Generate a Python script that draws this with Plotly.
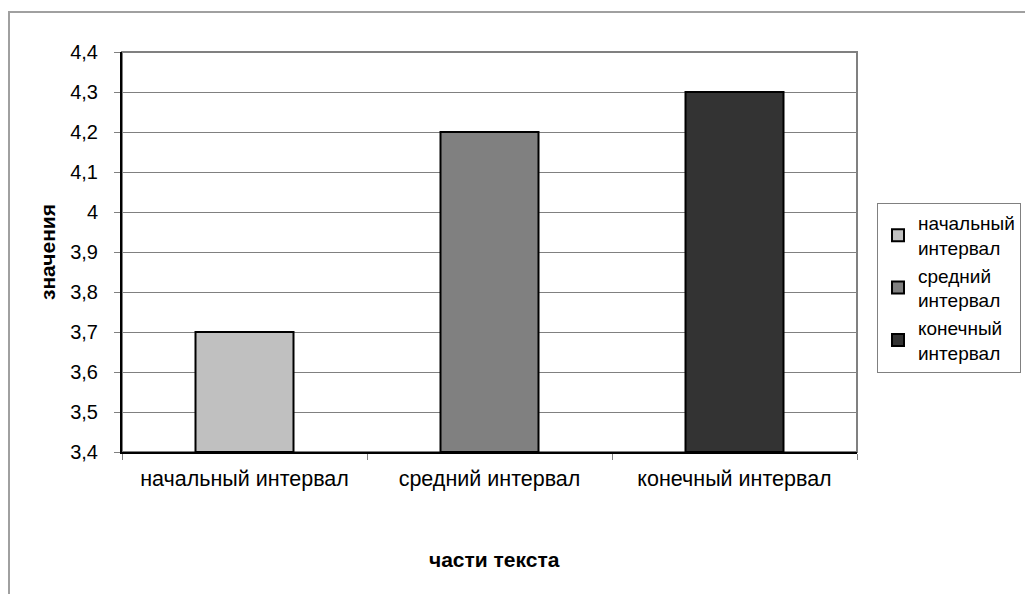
import plotly.graph_objects as go

categories = ["начальный интервал", "средний интервал", "конечный интервал"]
legend_names = ["начальный<br>интервал", "средний<br>интервал", "конечный<br>интервал"]
values = [3.7, 4.2, 4.3]
colors = ["#C0C0C0", "#808080", "#333333"]
y_min, y_max, y_step = 3.4, 4.4, 0.1
y_tick_labels = ["3,4", "3,5", "3,6", "3,7", "3,8", "3,9", "4", "4,1", "4,2", "4,3", "4,4"]
y_title = "значения"
x_title = "части текста"

OFF = 8  # page body offset
W, H = 1033 - OFF, 594 - OFF
# plot area in screen pixels
SL, SR, ST, SB = 122, 857, 52, 452
L, R, T, B = SL - OFF, SR - OFF, ST - OFF, SB - OFF

def px(sx):
    return (sx - SL) / (SR - SL)

def py(sy):
    return (SB - sy) / (SB - ST)

fig = go.Figure()
for cat, name, val, col in zip(categories, legend_names, values, colors):
    fig.add_trace(go.Bar(
        x=[cat], y=[val - y_min], base=y_min, name=name, width=0.4,
        marker=dict(color=col, line=dict(color="black", width=2)),
    ))

font = "Liberation Sans, Arial, sans-serif"
tickvals = [y_min + y_step * i for i in range(len(y_tick_labels))]

fig.update_layout(
    width=W, height=H,
    margin=dict(l=L, r=W - R, t=T, b=H - B, pad=0),
    paper_bgcolor="white", plot_bgcolor="white",
    barmode="overlay",
    font=dict(family=font, size=20, color="black"),
    showlegend=True,
    legend=dict(
        x=px(877), y=py(203), xanchor="left", yanchor="top",
        bordercolor="#808080", borderwidth=1, bgcolor="white",
        font=dict(size=19), itemwidth=30, itemsizing="constant",
    ),
    xaxis=dict(
        type="category", showline=True, linecolor="black", linewidth=2,
        ticks="outside", tickson="boundaries", ticklen=6, tickcolor="#808080",
        showgrid=False, tickfont=dict(size=21.5), ticklabelstandoff=6,
    ),
    yaxis=dict(
        range=[y_min, y_max], tickvals=tickvals, ticktext=y_tick_labels,
        showline=True, linecolor="black", linewidth=2,
        ticks="outside", ticklen=6, tickcolor="#808080",
        showgrid=True, gridcolor="#808080", gridwidth=1,
        tickfont=dict(size=20), zeroline=False, ticklabelstandoff=12,
    ),
    annotations=[
        dict(text="<b>" + x_title + "</b>", xref="paper", yref="paper",
             x=px(494), y=py(559), xanchor="center", yanchor="middle",
             showarrow=False, font=dict(size=21)),
        dict(text="<b>" + y_title + "</b>", xref="paper", yref="paper",
             x=px(47), y=py(252), xanchor="center", yanchor="middle",
             textangle=-90, showarrow=False, font=dict(size=21)),
    ],
    shapes=[
        dict(type="rect", xref="paper", yref="paper", x0=0, x1=1, y0=0, y1=1,
             line=dict(color="#808080", width=2), layer="below"),
        dict(type="rect", xref="paper", yref="paper",
             x0=px(9), x1=px(1045), y0=py(610), y1=py(12),
             line=dict(color="#A0A0A0", width=2), layer="below"),
    ],
)
fig.write_html("out.html")
